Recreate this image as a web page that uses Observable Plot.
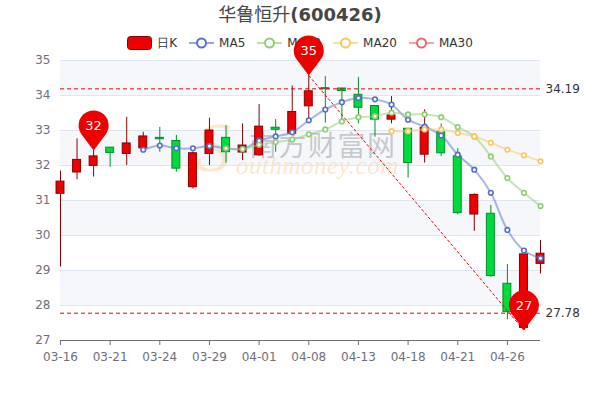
<!DOCTYPE html>
<html><head><meta charset="utf-8">
<script src="https://cdn.jsdelivr.net/npm/d3@7"></script>
<script src="https://cdn.jsdelivr.net/npm/@observablehq/plot@0.6"></script>
<style>
body{margin:0;background:#fff;font-family:"DejaVu Sans",sans-serif;}
#wrap{position:relative;width:600px;height:400px;overflow:hidden;background:#fff}
#title{position:absolute;top:1px;left:0;width:600px;text-align:center;font-size:18px;font-weight:bold;color:#464646;line-height:24px}
#title .cn{font-weight:normal;font-family:"Noto Sans CJK SC",sans-serif}
#legend{position:absolute;top:36px;left:0;width:600px;display:flex;justify-content:center;gap:12px;font-size:12px;color:#333;line-height:14px;height:14px}
.item{display:flex;align-items:center;gap:5px}
.item svg{display:block}
#chart{position:absolute;top:50px;left:0}
#chart svg{overflow:visible}
#wm{position:absolute;left:0;top:0;width:600px;height:400px;pointer-events:none}
#wm .s{position:absolute;left:196px;top:108px;font:italic 70px "Liberation Serif",serif;color:rgba(250,190,110,0.35)}
#wm .site{position:absolute;left:236px;top:152px;font:italic 25px "Liberation Serif",serif;color:rgba(250,200,140,0.45);letter-spacing:0.5px}
#wm .cn{position:absolute;left:249px;top:124px;font:28px "Noto Sans CJK SC",sans-serif;color:rgba(120,120,120,0.45);letter-spacing:1.5px}
</style></head>
<body>
<div id="wrap">
  <div id="title"><span class="cn">华鲁恒升</span>(600426)</div>
  <div id="wm"><span class="s">S</span><span class="site">outhmoney.com</span><span class="cn">南方财富网</span></div>
  <div id="legend"></div>
  <div id="chart"></div>
</div>
<script>
const dates = ["03-16","03-17","03-18","03-21","03-22","03-23","03-24","03-25","03-28","03-29","03-30","03-31","04-01","04-06","04-07","04-08","04-11","04-12","04-13","04-14","04-15","04-18","04-19","04-20","04-21","04-22","04-25","04-26","04-27","04-28"];
const openV  = [31.19,31.80,31.99,32.51,32.33,32.49,32.79,32.70,31.38,32.33,32.79,32.37,32.29,33.08,32.91,33.69,34.21,34.20,34.02,33.70,33.31,33.05,32.31,32.95,32.26,30.60,30.62,28.62,27.36,29.19];
const closeV = [31.54,32.16,32.26,32.36,32.63,32.83,32.75,31.91,32.35,33.00,32.38,32.57,33.11,33.02,33.53,34.12,34.18,34.13,33.65,33.31,33.43,32.07,33.08,32.35,30.64,31.16,28.84,27.81,29.46,29.48];
const highV  = [31.84,32.76,32.43,32.51,33.38,32.95,33.09,32.86,32.38,33.35,33.14,33.19,33.74,33.31,34.27,34.57,34.54,34.21,34.52,33.71,33.97,33.05,33.59,33.19,32.48,31.19,30.86,29.17,29.46,29.86];
const lowV   = [29.10,31.59,31.67,31.95,32.00,32.47,32.38,31.81,31.33,32.00,32.07,32.14,32.26,32.38,32.89,33.27,33.21,33.24,33.19,32.81,33.19,31.64,32.07,32.26,30.59,30.12,28.81,27.59,27.29,28.90];
const ma5  = [null,null,null,null,null,32.45,32.57,32.49,32.49,32.56,32.49,32.47,32.71,32.83,32.95,33.29,33.60,33.81,33.93,33.89,33.74,33.31,33.11,32.86,32.31,31.88,31.22,30.16,29.57,29.35];
const ma10 = [null,null,null,null,null,null,null,null,null,null,32.49,32.47,32.59,32.67,32.74,32.89,33.03,33.26,33.38,33.41,33.51,33.46,33.46,33.38,33.10,32.83,32.26,31.64,31.22,30.84];
const ma20 = [null,null,null,null,null,null,null,null,null,null,null,null,null,null,null,null,null,null,null,null,32.98,32.98,33.03,33.03,32.93,32.83,32.65,32.45,32.29,32.12];
const yTicks = [27,28,29,30,31,32,33,34,35];
const xTickIdx = [0,3,6,9,12,15,18,21,24,27];
const bandLo = [28,30,32,34];
const bandHi = [29,31,33,35];
const markVals = [34.19, 27.78];
const markLabels = ["34.19","27.78"];
const pinIdx = [2,15,28];
const pinVal = [32.43,34.57,27.29];
const pinLabel = ["32","35","27"];
const diagFrom = {i:15, v:34.57};
const diagTo = {i:28, v:27.29};

const UPF="#ec0000", UPB="#8A0000", DNF="#00da3c", DNB="#008F28";
const C5="#5470c6", C10="#91cc75", C20="#fac858", C30="#ee6666";

// legend
const legend = document.getElementById("legend");
const items = [
  {name:"日K", type:"k"},
  {name:"MA5", c:C5},{name:"MA10", c:C10},{name:"MA20", c:C20},{name:"MA30", c:C30}
];
for (const it of items){
  const d=document.createElement("div"); d.className="item";
  const icon = it.type==="k"
    ? `<svg width="25" height="14"><rect x="0.5" y="0.5" width="24" height="13" rx="3" fill="${UPF}" stroke="${UPB}"/></svg>`
    : `<svg width="25" height="14"><line x1="0" y1="7" x2="25" y2="7" stroke="${it.c}" stroke-width="2" stroke-opacity="0.6"/><circle cx="12.5" cy="7" r="4.5" fill="#fff" stroke="${it.c}" stroke-width="2"/></svg>`;
  d.innerHTML = icon + `<span>${it.name}</span>`;
  legend.appendChild(d);
}

const candles = dates.map((d,i)=>({i, date:d, o:openV[i], c:closeV[i], h:highV[i], l:lowV[i], up: closeV[i]>=openV[i]}));
const maSeries = [
  {vals:ma5, c:C5},{vals:ma10, c:C10},{vals:ma20, c:C20}
].map(s=>({c:s.c, pts:s.vals.map((v,i)=>({i,v})).filter(p=>p.v!=null)}));
const bands = bandLo.map((lo,k)=>({lo, hi:bandHi[k]}));
const marks = markVals.map((v,k)=>({v, label:markLabels[k]}));
const pins = pinIdx.map((i,k)=>({i, v:pinVal[k], label:pinLabel[k]}));

const pinSymbol = {
  draw(ctx, size){
    const R = Math.sqrt(size/Math.PI);
    const h = R*5/3;
    const cos = R/h, sin = Math.sqrt(1-cos*cos);
    const a0 = Math.atan2(R*cos, -R*sin), a1 = Math.atan2(R*cos, R*sin);
    ctx.moveTo(0,0);
    ctx.lineTo(-R*sin, -h + R*cos);
    ctx.arc(0, -h, R, a0, a1, false);
    ctx.closePath();
  }
};

const maMarks = [];
for (const s of maSeries){
  maMarks.push(Plot.line(s.pts, {x:"i", y:"v", stroke:s.c, strokeWidth:2, strokeOpacity:0.5, curve:"catmull-rom"}));
}
for (const s of maSeries){
  maMarks.push(Plot.dot(s.pts, {x:"i", y:"v", r:2.3, fill:"#fff", stroke:s.c, strokeWidth:1.6}));
}

const chart = Plot.plot({
  width:600, height:350,
  marginTop:10, marginBottom:60, marginLeft:60, marginRight:60,
  style:{background:"transparent", fontFamily:"DejaVu Sans, sans-serif", fontSize:"12px", overflow:"visible"},
  x:{type:"linear", domain:[0, dates.length-1]},
  y:{domain:[27,35]},
  marks:[
    Plot.rect(bands, {y1:"lo", y2:"hi", fill:"#d2dbee", fillOpacity:0.22}),
    Plot.ruleY(yTicks.filter(t=>t>27), {stroke:"#E0E6F1", strokeWidth:1}),
    Plot.ruleY([27], {stroke:"#6E7079", strokeWidth:1}),
    Plot.axisY({ticks:yTicks, tickSize:0, tickPadding:10, fontSize:12, fill:"#6E7079", label:null}),
    Plot.axisX({ticks:xTickIdx, tickFormat:i=>dates[i], tickSize:5, tickPadding:7, fontSize:12, fill:"#6E7079", stroke:"#6E7079", label:null}),
    Plot.ruleX(candles, {x:"i", y1:"l", y2:"h", stroke:d=>d.up?UPB:DNB, strokeWidth:1}),
    Plot.rect(candles, {x1:d=>d.i-0.24, x2:d=>d.i+0.24, y1:"o", y2:"c", fill:d=>d.up?UPF:DNF, stroke:d=>d.up?UPB:DNB, strokeWidth:1}),
    ...maMarks,
    Plot.ruleY(marks, {y:"v", stroke:"#ee0000", strokeWidth:1, strokeDasharray:"4,3"}),
    Plot.text(marks, {x:()=>dates.length-1, y:"v", text:"label", textAnchor:"start", dx:5, fill:"#333", fontSize:12}),
    Plot.link([{a:diagFrom, b:diagTo}], {x1:d=>d.a.i, y1:d=>d.a.v, x2:d=>d.b.i, y2:d=>d.b.v, stroke:"#ee0000", strokeWidth:1, strokeDasharray:"3,2"}),
    Plot.dot(pins, {x:"i", y:"v", symbol:pinSymbol, r:15, fill:"#ee0000", stroke:"none"}),
    Plot.text(pins, {x:"i", y:"v", text:"label", dy:-25, fill:"#fff", fontSize:13})
  ]
});
document.getElementById("chart").appendChild(chart);
</script>
</body></html>
